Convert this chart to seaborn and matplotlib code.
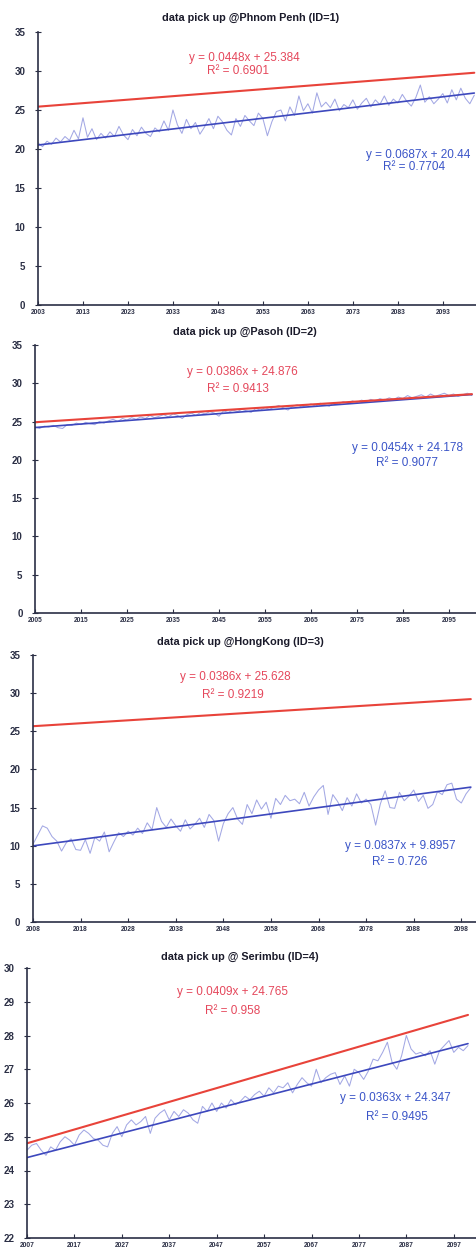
import numpy as np
import pandas as pd
import matplotlib
matplotlib.use("Agg")
import matplotlib.pyplot as plt
import seaborn as sns

# ---------------- data ----------------
titles = ["data pick up @Phnom Penh (ID=1)", "data pick up @Pasoh (ID=2)",
          "data pick up @HongKong (ID=3)", "data pick up @ Serimbu (ID=4)"]
start_years = [2003, 2005, 2008, 2007]

blue_1 = [20.8, 20.3, 21.0, 20.6, 21.4, 20.9, 21.6, 21.1, 22.4, 21.3,
          24.0, 21.5, 22.6, 21.2, 22.0, 21.4, 22.2, 21.6, 22.9, 21.8,
          21.2, 22.5, 21.7, 22.8, 22.0, 21.6, 22.7, 22.2, 23.6, 22.4,
          25.0, 23.1, 22.0, 23.8, 22.6, 23.4, 21.9, 22.8, 23.9, 22.6,
          24.2, 23.5, 22.4, 21.8, 23.9, 22.9, 24.3, 23.6, 23.0, 24.6,
          23.9, 21.7, 23.5, 24.8, 25.0, 23.6, 25.4, 24.3, 26.8, 24.9,
          25.8, 24.6, 27.2, 25.4, 26.0, 25.3, 26.4, 24.9, 25.7, 25.3,
          26.3, 25.1, 25.9, 26.5, 25.4, 26.3, 25.7, 26.8, 25.6, 26.4,
          25.9, 27.0, 26.1, 25.5, 26.6, 28.2, 26.0, 26.7, 25.8, 26.4,
          27.1, 25.9, 27.6, 26.3, 27.8, 26.5, 25.8, 26.9]

blue_2 = [24.3, 24.1, 24.4, 24.3, 24.5, 24.2, 24.1, 24.6, 24.5, 24.8,
          24.6, 24.9, 24.7, 24.6, 25.0, 24.8, 25.1, 25.3, 25.0, 25.4,
          25.2, 25.5, 25.3, 25.6, 25.4, 25.8, 25.5, 25.7, 25.9, 25.6,
          26.0, 25.8, 25.4, 25.9, 26.1, 25.8, 26.2, 26.0, 26.3, 26.1,
          25.7, 26.4, 26.2, 26.5, 26.3, 26.6, 26.4, 26.2, 26.7, 26.5,
          26.8, 26.6, 26.9, 27.1, 26.8, 26.5, 27.0, 27.2, 26.9, 27.1,
          27.3, 27.0, 27.4, 27.2, 27.0, 27.5, 27.3, 27.6, 27.4, 27.7,
          27.5, 27.8, 27.6, 27.9, 27.7, 28.0, 27.8, 28.1, 27.9, 28.2,
          28.0, 28.4, 28.1, 28.3, 28.5, 28.2, 28.6, 28.3, 28.5, 28.7,
          28.4, 28.6, 28.3, 28.5, 28.7, 28.4]

blue_3 = [10.2, 11.4, 12.6, 12.3, 11.2, 10.6, 9.3, 10.4, 10.9, 9.5,
          9.4, 10.8, 9.0, 11.1, 10.6, 11.8, 9.2, 10.5, 11.7, 11.2,
          11.9, 11.4, 12.3, 11.6, 13.0, 12.1, 15.0, 13.2, 12.4, 13.5,
          12.6, 11.9, 13.4, 12.2, 12.8, 13.6, 12.4, 14.1, 13.3, 10.6,
          12.9, 14.2, 15.0, 13.5, 12.8, 15.4, 14.2, 16.0, 14.8, 15.7,
          13.6, 16.2, 15.4, 16.6, 15.9, 16.1, 15.5, 17.0, 15.2, 16.4,
          17.3, 17.9, 14.1, 16.7, 15.8, 14.6, 16.3, 15.2, 16.8, 15.6,
          16.1, 15.4, 12.7, 15.5, 17.2, 15.0, 14.9, 17.0, 15.9, 16.5,
          17.3, 15.8, 16.6, 14.9, 15.4, 17.1, 16.7, 18.0, 18.2, 16.1,
          15.6, 16.8, 17.6]

blue_4 = [24.6, 24.75, 24.8, 24.6, 24.45, 24.7, 24.6, 24.85, 25.0, 24.9,
          24.75, 25.05, 25.2, 25.1, 24.95, 24.9, 24.75, 24.7, 25.1, 25.3,
          25.0, 25.35, 25.5, 25.35, 25.45, 25.6, 25.1, 25.55, 25.7, 25.8,
          25.5, 25.75, 25.6, 25.8, 25.7, 25.5, 25.4, 25.9, 25.75, 26.0,
          25.75, 26.0, 25.85, 26.1, 25.95, 26.05, 26.2, 26.1, 26.25, 26.35,
          26.2, 26.45, 26.3, 26.5, 26.45, 26.6, 26.3, 26.55, 26.75, 26.6,
          26.5, 27.0, 26.6, 26.75, 26.85, 26.9, 26.55, 26.8, 26.5, 27.0,
          26.9, 26.7, 26.95, 27.3, 27.25, 27.5, 27.8, 27.2, 27.0, 27.4,
          28.0, 27.6, 27.45, 27.5, 27.4, 27.55, 27.15, 27.55, 27.7, 27.85,
          27.5, 27.65, 27.55, 27.7]

blue_series = [blue_1, blue_2, blue_3, blue_4]

red_slopes = [0.0448, 0.0386, 0.0386, 0.0409]
red_intercepts = [25.384, 24.876, 25.628, 24.765]
red_r2 = ["0.6901", "0.9413", "0.9219", "0.958"]
red_eq = ["y = 0.0448x + 25.384", "y = 0.0386x + 24.876",
          "y = 0.0386x + 25.628", "y = 0.0409x + 24.765"]

blue_slopes = [0.0687, 0.0454, 0.0837, 0.0363]
blue_intercepts = [20.44, 24.178, 9.8957, 24.347]
blue_r2 = ["0.7704", "0.9077", "0.726", "0.9495"]
blue_eq = ["y = 0.0687x + 20.44", "y = 0.0454x + 24.178",
           "y = 0.0837x + 9.8957", "y = 0.0363x + 24.347"]

y_limits = [(0, 35), (0, 35), (0, 35), (22, 30)]
y_steps = [5, 5, 5, 1]

# ---------------- layout (pixels) ----------------
W, H = 477, 1260
ax_left_px = [38, 35, 33, 27]
ax_top_px = [32, 345, 655, 968]
ax_bot_px = [305, 613, 922, 1238]
x_right = [2100.6, 2101.1, 2101.3, 2101.9]
title_pos = [(251, 18), (245, 332), (240, 642), (240, 957)]
red_eq_pos = [(244, 58), (242, 372), (235, 677), (233, 992)]
red_r2_pos = [(238, 71), (238, 389), (233, 695), (233, 1011)]
blue_eq_pos = [(418, 155), (408, 448), (400, 846), (395, 1098)]
blue_r2_pos = [(414, 167), (407, 463), (400, 862), (397, 1117)]

RED = "#e8433a"
RED_TXT = "#e5485c"
BLUE = "#3d48bd"
BLUE_TXT = "#3b55c8"
BLUE_DATA = "#a3a8e4"
AX = "#2b2f45"

sns.set_style("white")
plt.rcParams["font.family"] = ["Liberation Sans", "DejaVu Sans"]

fig = plt.figure(figsize=(W / 100, H / 100), dpi=100)
fig.patch.set_facecolor("white")

def fx(px):
    return px / W

def fy(py):
    return 1 - py / H

for k in range(4):
    vals = blue_series[k]
    n = len(vals)
    years = np.arange(start_years[k], start_years[k] + n)
    idx = np.arange(1, n + 1)
    df = pd.DataFrame({
        "year": years,
        "blue": vals,
        "blue_fit": blue_slopes[k] * idx + blue_intercepts[k],
        "red_fit": red_slopes[k] * idx + red_intercepts[k],
    })
    left = fx(ax_left_px[k])
    bottom = fy(ax_bot_px[k])
    height = (ax_bot_px[k] - ax_top_px[k]) / H
    ax = fig.add_axes([left, bottom, 1 - left, height])
    ax.set_facecolor("white")

    sns.lineplot(data=df, x="year", y="blue", ax=ax, color=BLUE_DATA, lw=0.75)
    sns.lineplot(data=df, x="year", y="blue_fit", ax=ax, color=BLUE, lw=1.2)
    sns.lineplot(data=df, x="year", y="red_fit", ax=ax, color=RED, lw=1.5)

    ax.set_xlim(start_years[k], x_right[k])
    ax.set_ylim(*y_limits[k])
    ax.set_xlabel("")
    ax.set_ylabel("")
    xt = np.arange(start_years[k], 2100, 10)
    ax.set_xticks(xt)
    ax.set_xticklabels([str(v) for v in xt], fontsize=4.8, fontweight="bold",
                       color=AX)
    yt = np.arange(y_limits[k][0], y_limits[k][1] + 0.01, y_steps[k])
    ax.set_yticks(yt)
    ax.set_yticklabels([str(int(v)) for v in yt], fontsize=7, fontweight="bold",
                       color=AX)
    ax.tick_params(axis="y", direction="inout", length=4, width=0.8, pad=7,
                   color=AX, left=True)
    ax.tick_params(axis="x", direction="in", length=3, width=0.8, pad=3,
                   color=AX, bottom=True)
    for s in ["top", "right"]:
        ax.spines[s].set_visible(False)
    for s in ["left", "bottom"]:
        ax.spines[s].set_color(AX)
        ax.spines[s].set_linewidth(1.2)

    tx, ty = title_pos[k]
    fig.text(fx(tx), fy(ty), titles[k], ha="center", va="center",
             fontsize=7.8, fontweight="bold", color="#1a1a2a")
    x, y = red_eq_pos[k]
    fig.text(fx(x), fy(y), red_eq[k], ha="center", va="center",
             fontsize=8.5, color=RED_TXT)
    x, y = red_r2_pos[k]
    fig.text(fx(x), fy(y), "R² = " + red_r2[k], ha="center", va="center",
             fontsize=8.5, color=RED_TXT)
    x, y = blue_eq_pos[k]
    fig.text(fx(x), fy(y), blue_eq[k], ha="center", va="center",
             fontsize=8.5, color=BLUE_TXT)
    x, y = blue_r2_pos[k]
    fig.text(fx(x), fy(y), "R² = " + blue_r2[k], ha="center", va="center",
             fontsize=8.5, color=BLUE_TXT)

fig.savefig("out.png", dpi=100, facecolor="white")
